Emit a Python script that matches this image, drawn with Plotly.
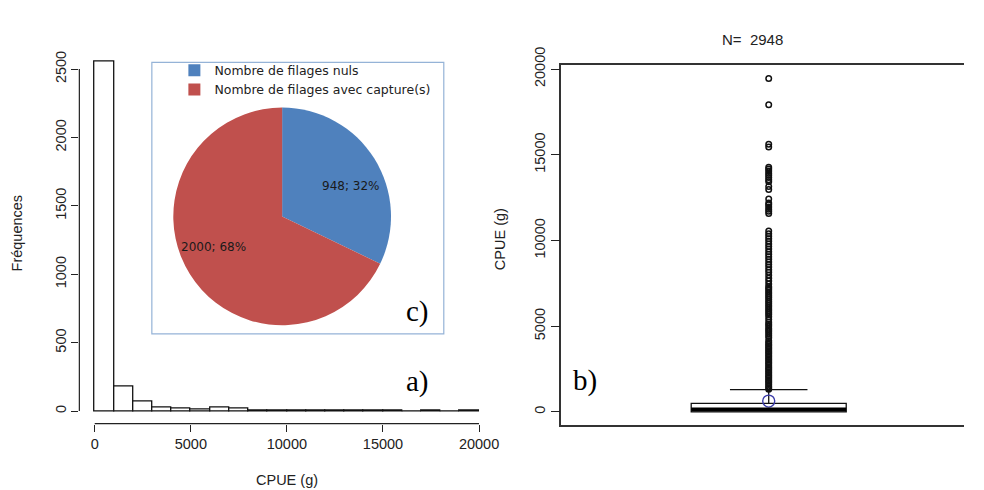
import numpy as np
import plotly.graph_objects as go

W, H = 984, 490

# ---- a) histogram of CPUE (bins of 1000 g) ----
bin_edges = [0, 1000, 2000, 3000, 4000, 5000, 6000, 7000, 8000, 9000, 10000,
             11000, 12000, 13000, 14000, 15000, 16000, 17000, 18000, 19000, 20000]
bin_counts = [2559, 183, 72, 25, 16, 15, 26, 16, 7, 7, 2, 6, 2, 6, 1, 3, 0, 1, 0, 1]
hist_xticks = [0, 5000, 10000, 15000, 20000]
hist_yticks = [0, 500, 1000, 1500, 2000, 2500]

# ---- c) zero vs non-zero sets ----
pie_labels = ["Nombre de filages nuls", "Nombre de filages avec capture(s)"]
pie_values = [948, 2000]
pie_colors = ["#4F81BD", "#C0504D"]

# ---- b) boxplot summary ----
n_obs = 2948
box_q1 = 0
box_median = 150
box_q3 = 500
box_upper = 1300
box_mean = 635
box_outliers = [
    1320, 1410, 1500, 1600, 1700, 1790, 1880, 1980, 2070, 2160, 2260, 2350,
    2450, 2540, 2630, 2730, 2820, 2920, 3010, 3100, 3200, 3290, 3390, 3480,
    3570, 3670, 3760, 3860, 3950, 4050, 4160, 4330, 4450, 4560, 4680, 4780,
    4890, 5010, 5120, 5230, 5390, 5560, 5680, 5790, 5900, 6010, 6120, 6230,
    6340, 6450, 6560, 6670, 6780, 6890, 7000, 7110, 7220, 7300, 7470, 7640,
    7800, 7980, 8150, 8300, 8450, 8600, 8750, 8900, 9050, 9200, 9350, 9500,
    9650, 9800, 9950, 10100, 10250, 10400, 10550,
    11570, 11700, 11820, 11950, 12080, 12190, 12420, 12980, 13150,
    13430, 13550, 13680, 13800, 13920, 14050, 14170, 14270,
    15450, 15620, 17920, 19450,
]
box_yticks = [0, 5000, 10000, 15000, 20000]


def px(x):
    return x / W


def py(y):
    return 1 - y / H


AXIS_FONT = dict(family="Liberation Sans, Arial, sans-serif", size=14.5, color="#222")
LABEL_FONT = dict(family="Liberation Serif, Times New Roman, serif", size=29, color="#000")
PIE_FONT = dict(family="DejaVu Sans, sans-serif", size=12, color="#1a1a1a")


def note(text, x, y, font, angle=0):
    return dict(text=text, x=px(x), y=py(y), xref="paper", yref="paper",
                xanchor="center", yanchor="middle", textangle=angle,
                showarrow=False, font=font)


fig = go.Figure()

# histogram bars
edges = np.array(bin_edges, dtype=float)
centers = (edges[:-1] + edges[1:]) / 2
widths = np.diff(edges)
fig.add_trace(go.Bar(
    x=centers, y=bin_counts, width=widths,
    marker=dict(color="white", line=dict(color="#111", width=1.3)),
    xaxis="x", yaxis="y", showlegend=False, hoverinfo="x+y",
))

# pie inset
pie_cx, pie_cy, pie_r = 288, 206, 113
fig.add_trace(go.Pie(
    labels=pie_labels, values=pie_values,
    marker=dict(colors=pie_colors, line=dict(width=0)),
    sort=False, direction="clockwise", rotation=0,
    textinfo="none",
    domain=dict(x=[px(pie_cx - pie_r), px(pie_cx + pie_r)],
                y=[py(pie_cy + pie_r), py(pie_cy - pie_r)]),
    showlegend=True,
))

# slice labels "value; percent", placed from the slice angles
vals = np.array(pie_values, dtype=float)
frac = vals / vals.sum()
mid = (np.cumsum(frac) - frac / 2) * 360 + 8  # degrees clockwise from 12 o'clock
label_r = 0.68 * pie_r
annotations = []
for v, f, a in zip(pie_values, frac, np.deg2rad(mid)):
    annotations.append(note(f"{v}; {f:.0%}",
                            pie_cx + label_r * np.sin(a),
                            pie_cy - label_r * np.cos(a), PIE_FONT))

# boxplot
fig.add_trace(go.Box(
    x=[0], q1=[box_q1], median=[box_median], q3=[box_q3],
    lowerfence=[box_q1], upperfence=[box_upper],
    width=0.77, whiskerwidth=0.5, boxpoints=False,
    fillcolor="white", line=dict(color="#111", width=1.3),
    xaxis="x2", yaxis="y2", showlegend=False,
))
fig.add_trace(go.Scatter(
    x=[0] * len(box_outliers), y=box_outliers, mode="markers",
    marker=dict(symbol="circle-open", size=5.5, color="#111", line=dict(width=1.5)),
    xaxis="x2", yaxis="y2", showlegend=False,
))
fig.add_trace(go.Scatter(
    x=[0], y=[box_mean], mode="markers",
    marker=dict(symbol="circle-open", size=12, color="#3a3aa8", line=dict(width=1.4)),
    xaxis="x2", yaxis="y2", showlegend=False,
))

shapes = [
    # histogram axis lines (R style, spanning tick range only)
    dict(type="line", xref="x", yref="paper", x0=hist_xticks[0], x1=hist_xticks[-1],
         y0=py(421), y1=py(421), line=dict(color="#222", width=1.2)),
    dict(type="line", xref="paper", yref="y", x0=px(81), x1=px(81),
         y0=hist_yticks[0], y1=hist_yticks[-1], line=dict(color="#222", width=1.2)),
    # inset frame
    dict(type="rect", xref="paper", yref="paper", x0=px(155), x1=px(453),
         y0=py(328), y1=py(46), line=dict(color="#95B3D7", width=1.2)),
    # thick median line of the boxplot
    dict(type="line", xref="x2", yref="y2", x0=-0.385, x1=0.385,
         y0=box_median, y1=box_median, line=dict(color="#000", width=4)),
]

annotations += [
    note("Fréquences", 17, 223, AXIS_FONT, -90),
    note("CPUE (g)", 293, 480, AXIS_FONT),
    note("CPUE (g)", 510, 230, AXIS_FONT, -90),
    note(f"N=  {n_obs}", 768, 22, dict(AXIS_FONT, size=15)),
    note("a)", 426, 377, LABEL_FONT),
    note("b)", 597, 376, LABEL_FONT),
    note("c)", 426, 305, LABEL_FONT),
]

fig.update_layout(
    width=W, height=H, margin=dict(l=0, r=0, t=0, b=0),
    paper_bgcolor="white", plot_bgcolor="white",
    bargap=0,
    xaxis=dict(domain=[px(81), px(489)], range=[-800, 20000], anchor="y",
               tickvals=hist_xticks, tickformat="d", ticks="outside", ticklen=7,
               tickcolor="#222", showline=False, showgrid=False, zeroline=False,
               tickfont=AXIS_FONT),
    yaxis=dict(domain=[py(421), py(40)], range=[-91, 2592], anchor="x",
               tickvals=hist_yticks, tickformat="d", ticks="outside", ticklen=7,
               tickcolor="#222", tickangle=-90, showline=False, showgrid=False,
               zeroline=False, tickfont=AXIS_FONT),
    xaxis2=dict(domain=[px(573), 1.0], range=[-1.03, 0.97], anchor="y2",
                showticklabels=False, ticks="", showline=True, mirror=True,
                linecolor="#333", linewidth=1.5, showgrid=False, zeroline=False),
    yaxis2=dict(domain=[py(423), py(49)], range=[-787, 20225], anchor="x2",
                tickvals=box_yticks, tickformat="d", ticks="outside", ticklen=9,
                tickcolor="#222", tickangle=-90, showline=True, linecolor="#333",
                linewidth=1.5, showgrid=False, zeroline=False, tickfont=AXIS_FONT),
    legend=dict(x=px(178), y=py(39), xanchor="left", yanchor="top",
                bgcolor="rgba(0,0,0,0)", tracegroupgap=0,
                font=dict(family="DejaVu Sans, sans-serif", size=12.5, color="#222")),
    shapes=shapes, annotations=annotations,
)

fig.write_html("out.html")
